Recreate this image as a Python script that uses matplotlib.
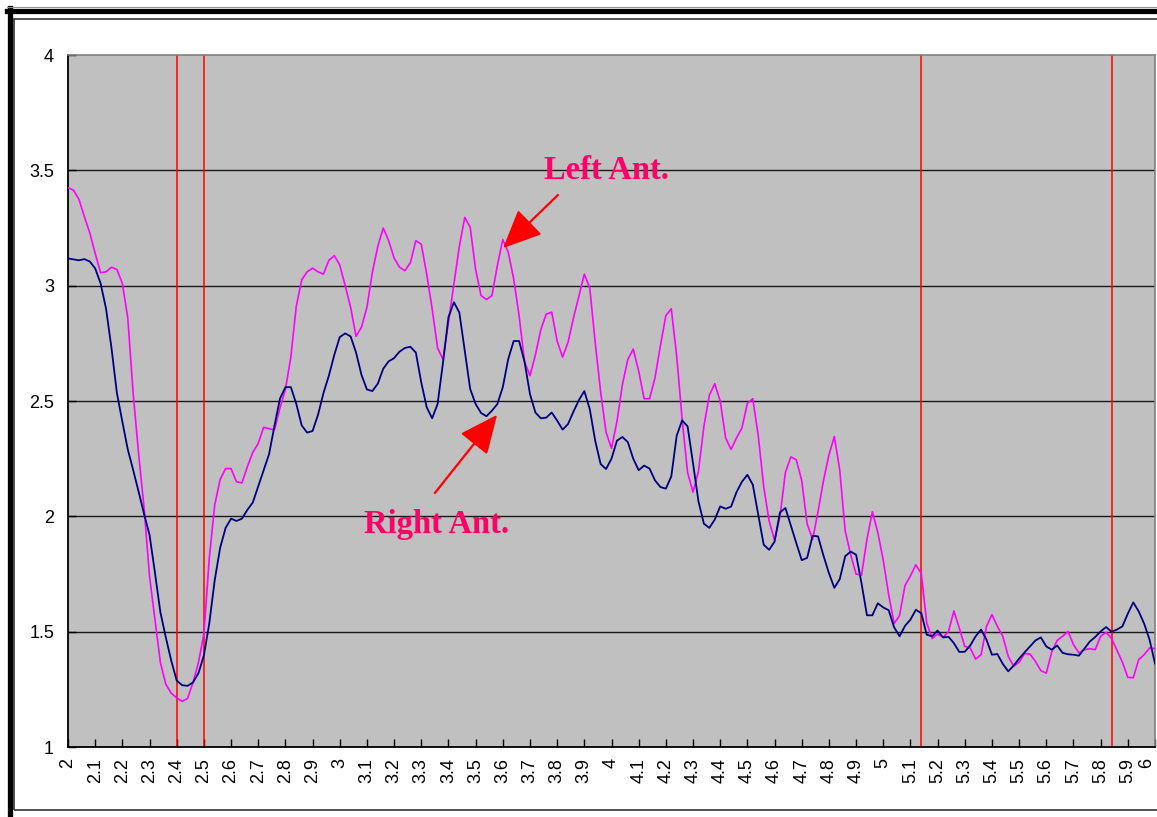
import matplotlib
matplotlib.use("Agg")
import matplotlib.pyplot as plt
import numpy as np
from matplotlib.lines import Line2D
from matplotlib.patches import Rectangle

# ---- data ----
x_start, x_step = 2.0, 0.02
left_ant = [
    3.425, 3.414, 3.375, 3.30, 3.23, 3.14, 3.056, 3.06, 3.08, 3.07,
    3.01, 2.86, 2.53, 2.27, 2.036, 1.74, 1.553, 1.366, 1.272, 1.233,
    1.213, 1.198, 1.21, 1.28, 1.366, 1.49, 1.82, 2.05, 2.16, 2.207,
    2.207, 2.15, 2.145, 2.215, 2.277, 2.316, 2.386, 2.38, 2.375, 2.47,
    2.55, 2.69, 2.91, 3.025, 3.06, 3.076, 3.06, 3.05, 3.11, 3.13,
    3.09, 3.00, 2.906, 2.78, 2.82, 2.906, 3.058, 3.17, 3.25, 3.195,
    3.12, 3.08, 3.065, 3.10, 3.195, 3.18, 3.05, 2.90, 2.73, 2.68,
    2.84, 3.007, 3.17, 3.296, 3.253, 3.07, 2.957, 2.94, 2.957, 3.087,
    3.20, 3.145, 3.03, 2.87, 2.67, 2.61, 2.70, 2.81, 2.877, 2.885,
    2.76, 2.69, 2.754, 2.86, 2.954, 3.05, 2.99, 2.754, 2.54, 2.364,
    2.295, 2.41, 2.57, 2.68, 2.725, 2.63, 2.51, 2.51, 2.60, 2.74,
    2.87, 2.90, 2.694, 2.42, 2.19, 2.105, 2.195, 2.39, 2.525, 2.575,
    2.50, 2.34, 2.29, 2.34, 2.383, 2.49, 2.51, 2.35, 2.13, 1.98,
    1.897, 2.00, 2.19, 2.258, 2.245, 2.155, 1.967, 1.90, 2.02, 2.155,
    2.265, 2.346, 2.20, 1.937, 1.834, 1.75, 1.745, 1.90, 2.02, 1.93,
    1.81, 1.66, 1.535, 1.57, 1.70, 1.742, 1.79, 1.752, 1.538, 1.47,
    1.49, 1.475, 1.50, 1.59, 1.515, 1.436, 1.429, 1.381, 1.40, 1.523,
    1.574, 1.523, 1.48, 1.393, 1.35, 1.367, 1.405, 1.403, 1.371, 1.331,
    1.32, 1.412, 1.462, 1.48, 1.501, 1.444, 1.408, 1.422, 1.426, 1.422,
    1.48, 1.497, 1.471, 1.42, 1.368, 1.302, 1.30, 1.379, 1.40, 1.429,
    1.426,
]
right_ant = [
    3.118, 3.114, 3.11, 3.115, 3.105, 3.075, 3.01, 2.90, 2.73, 2.534,
    2.41, 2.29, 2.20, 2.106, 2.01, 1.92, 1.755, 1.584, 1.475, 1.374,
    1.288, 1.268, 1.265, 1.28, 1.32, 1.397, 1.537, 1.724, 1.864, 1.95,
    1.99, 1.98, 1.99, 2.028, 2.06, 2.13, 2.20, 2.27, 2.394, 2.51,
    2.56, 2.56, 2.488, 2.394, 2.363, 2.37, 2.44, 2.534, 2.61, 2.70,
    2.777, 2.793, 2.78, 2.71, 2.613, 2.55, 2.543, 2.575, 2.64, 2.672,
    2.686, 2.714, 2.73, 2.735, 2.71, 2.58, 2.473, 2.425, 2.487, 2.667,
    2.863, 2.928, 2.884, 2.718, 2.552, 2.487, 2.448, 2.434, 2.458, 2.487,
    2.56, 2.682, 2.76, 2.76, 2.67, 2.53, 2.45, 2.425, 2.428, 2.45,
    2.415, 2.376, 2.40, 2.454, 2.504, 2.543, 2.465, 2.328, 2.227, 2.205,
    2.25, 2.328, 2.344, 2.322, 2.25, 2.20, 2.22, 2.207, 2.156, 2.127,
    2.12, 2.173, 2.35, 2.416, 2.39, 2.23, 2.065, 1.968, 1.95, 1.986,
    2.043, 2.033, 2.042, 2.105, 2.15, 2.18, 2.137, 2.007, 1.877, 1.855,
    1.89, 2.017, 2.036, 1.96, 1.884, 1.81, 1.82, 1.916, 1.913, 1.83,
    1.754, 1.69, 1.728, 1.827, 1.847, 1.834, 1.71, 1.571, 1.571, 1.623,
    1.605, 1.593, 1.519, 1.48, 1.525, 1.552, 1.595, 1.58, 1.487, 1.48,
    1.505, 1.475, 1.478, 1.45, 1.412, 1.413, 1.44, 1.48, 1.509, 1.465,
    1.40, 1.403, 1.36, 1.328, 1.353, 1.383, 1.41, 1.436, 1.462, 1.475,
    1.436, 1.422, 1.44, 1.408, 1.402, 1.40, 1.396, 1.426, 1.457, 1.477,
    1.501, 1.52, 1.50, 1.509, 1.523, 1.578, 1.627, 1.588, 1.535, 1.465,
    1.362,
]
red_lines = [2.4, 2.5, 5.14, 5.84]
x_tick_values = [round(2 + 0.1 * k, 1) for k in range(41)]
x_tick_labels = [("%g" % v) for v in x_tick_values]
y_tick_values = [1, 1.5, 2, 2.5, 3, 3.5, 4]
y_tick_labels = ["1", "1.5", "2", "2.5", "3", "3.5", "4"]
label_left = "Left Ant."
label_right = "Right Ant."

x = x_start + x_step * np.arange(len(left_ant))

# ---- figure ----
W, H = 1157, 817
fig = plt.figure(figsize=(W / 100, H / 100), dpi=100)
fig.patch.set_facecolor("white")

def fx(px):
    return px / W

def fy(py):
    return 1 - py / H

ax = fig.add_axes([fx(68), fy(747), fx(1155) - fx(68), fy(55) - fy(747)])
ax.set_facecolor("#C0C0C0")
ax.set_xlim(2, 6)
ax.set_ylim(1, 4)

for yv in [1.5, 2, 2.5, 3, 3.5]:
    ax.axhline(yv, color="#1a1a1a", lw=1.0, zorder=1)
for xv in red_lines:
    ax.axvline(xv, color="#FF0000", lw=1.1, zorder=2)

ax.plot(x, left_ant, color="#FF00FF", lw=1.2, zorder=3)
ax.plot(x, right_ant, color="#000080", lw=1.3, zorder=4)

ax.set_xticks(x_tick_values)
ax.set_xticklabels(x_tick_labels, rotation=90, va="top", ha="center",
                   family="Liberation Sans", fontsize=13)
ax.get_xticklabels()[-1].set_horizontalalignment("right")
ax.set_yticks(y_tick_values)
ax.set_yticklabels(y_tick_labels, family="Liberation Sans", fontsize=13)
ax.tick_params(axis="x", direction="in", length=6, width=1, pad=8, color="black")
ax.tick_params(axis="y", direction="in", length=6, width=1, pad=10, color="black")

for s in ["left", "bottom"]:
    ax.spines[s].set_color("black")
    ax.spines[s].set_linewidth(1.3)
for s in ["top", "right"]:
    ax.spines[s].set_color("#808080")
    ax.spines[s].set_linewidth(1.2)

# annotations
red_text = "#FF0066"
ax.text(3.98, 3.50, label_left, color=red_text, fontsize=23.5, fontweight="bold",
        family="Liberation Serif", ha="center", va="center", zorder=6)
ax.text(3.355, 1.965, label_right, color=red_text, fontsize=23.5, fontweight="bold",
        family="Liberation Serif", ha="center", va="center", zorder=6)
arrow = dict(arrowstyle="-|>,head_length=1.0,head_width=0.45", color="#FF0000",
             lw=1.6, mutation_scale=24, shrinkA=0, shrinkB=0)
ax.annotate("", xy=(3.601, 3.163), xytext=(3.803, 3.393), arrowprops=arrow, zorder=6)
ax.annotate("", xy=(3.579, 2.44), xytext=(3.350, 2.101), arrowprops=arrow, zorder=6)

# outer chart frame
fig.add_artist(Line2D([fx(7), 1.0], [fy(10.5), fy(10.5)], color="black", lw=3.8))
fig.add_artist(Line2D([fx(9.5), fx(9.5)], [fy(8), 0.0], color="black", lw=3.8))
fig.add_artist(Line2D([fx(7), 1.0], [fy(7), fy(7)], color="#909090", lw=0.8))
fig.add_artist(Rectangle((fx(13.5), fy(810)), 1.2, fy(19) - fy(810), fill=False,
                         edgecolor="#333333", lw=1.2))

fig.savefig("out.png", dpi=100)
